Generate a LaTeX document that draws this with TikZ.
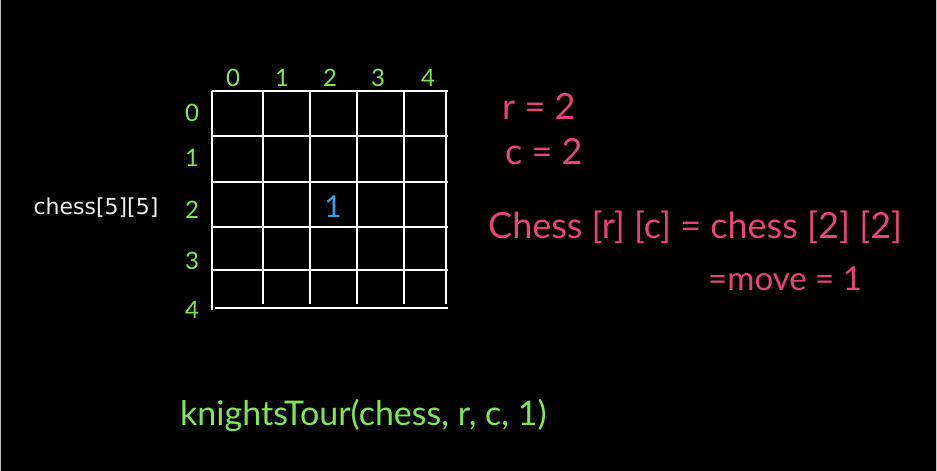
\documentclass[tikz,border=0pt]{standalone}
\usepackage{fontspec}
\newfontfamily\handfont{Lato}
\newfontfamily\screenfont{DejaVu Sans}
\definecolor{inkpink}{RGB}{232,68,118}
\definecolor{inkgreen}{RGB}{128,232,84}
\definecolor{inkblue}{RGB}{58,160,230}

\begin{document}
\begin{tikzpicture}[x=1pt,y=-1pt,
    gridline/.style={white,line width=2.2pt},
    idx/.style={text=inkgreen,font=\handfont\fontsize{24}{24}\selectfont,inner sep=0pt},
    pinknote/.style={text=inkpink,font=\handfont\fontsize{36}{36}\selectfont,inner sep=0pt,anchor=base west},
    greennote/.style={text=inkgreen,font=\handfont\fontsize{34}{34}\selectfont,inner sep=0pt,anchor=base west}]

\fill[black] (0,0) rectangle (937,471);
\useasboundingbox (0,0) rectangle (937,471);
\draw[gray!50,line width=1pt] (0.5,0) -- (0.5,471);
\draw[gray!50,line width=1pt] (936.5,0) -- (936.5,471);

\foreach \x in {263,310,357,404,446}
    \draw[gridline] (\x,91) -- (\x,304);
\draw[gridline] (212,91) -- (212,310);
\foreach \y in {91,136,182,227,270}
    \draw[gridline] (212,\y) -- (448,\y);
\draw[gridline] (215,308) -- (448,308);

\foreach \c/\x in {0/233,1/282,2/330,3/378,4/428}
    \node[idx] (col\c) at (\x,78) {\c};
\foreach \r/\y in {0/113,1/158,2/210,3/261,4/310}
    \node[idx] (row\r) at (192,\y) {\r};

\node[text=white!94!black,font=\screenfont\fontsize{22}{22}\selectfont,inner sep=0pt] (arrname) at (96,208) {chess[5][5]};
\node[text=inkblue,font=\handfont\fontsize{30}{30}\selectfont,inner sep=0pt] (move) at (333,207) {1};

\node[pinknote] (rval) at (502,119) {r = 2};
\node[pinknote] (cval) at (505,164) {c = 2};
\node[pinknote] (cell) at (488,238) {Chess [r] [c] = chess [2] [2]};
\node[pinknote,font=\handfont\fontsize{33}{33}\selectfont] (mval) at (708,290) {=move = 1};

\node[greennote] (call) at (180,425) {knightsTour(chess, r, c, 1)};
\end{tikzpicture}
\end{document}
